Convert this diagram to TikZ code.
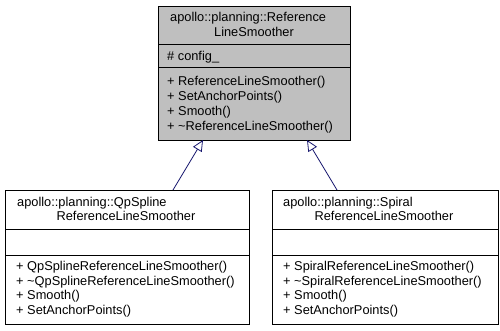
\documentclass[tikz,border=0pt]{standalone}
\usepackage{fontspec}
\setmainfont{Liberation Sans}
\usetikzlibrary{arrows.meta,calc}
\definecolor{edgeblue}{HTML}{191970}
\definecolor{basegray}{HTML}{BFBFBF}
\begin{document}
\begin{tikzpicture}[x=1pt,y=-1pt,
  classbox/.style={draw=black, line width=0.8pt, rectangle, inner sep=0pt, anchor=north west},
  txt/.style={font=\fontsize{12.8}{14}\selectfont, inner sep=0pt, text height=9.2pt, text depth=2.7pt},
  lefttxt/.style={txt, anchor=west},
  divider/.style={draw=black, line width=0.8pt},
  inherit/.style={draw=edgeblue, line width=0.8pt, -{Triangle[open, length=11pt, width=10pt]}}]
\useasboundingbox (0,0) rectangle (500,331);

% base class
\node[classbox, fill=basegray, minimum width=192pt, minimum height=134pt] (base) at (158,6) {};
\node[lefttxt] (baseT1) at (170,18) {apollo::planning::Reference};
\node[txt] (baseT2) at (254,33) {LineSmoother};
\draw[divider] ($(base.north west)+(0,38)$) -- ($(base.north east)+(0,38)$);
\node[lefttxt] (baseA1) at (167,57) {\# config\_};
\draw[divider] ($(base.north west)+(0,61)$) -- ($(base.north east)+(0,61)$);
\node[lefttxt] (baseM1) at (167,82) {+ ReferenceLineSmoother()};
\node[lefttxt] (baseM2) at (167,97) {+ SetAnchorPoints()};
\node[lefttxt] (baseM3) at (167,112) {+ Smooth()};
\node[lefttxt] (baseM4) at (167,127) {+ \textasciitilde ReferenceLineSmoother()};

% QP spline smoother
\node[classbox, minimum width=244pt, minimum height=134pt] (qp) at (5,190) {};
\node[lefttxt] (qpT1) at (17,203) {apollo::planning::QpSpline};
\node[txt] (qpT2) at (126,217) {ReferenceLineSmoother};
\draw[divider] ($(qp.north west)+(0,39)$) -- ($(qp.north east)+(0,39)$);
\draw[divider] ($(qp.north west)+(0,65)$) -- ($(qp.north east)+(0,65)$);
\node[lefttxt] (qpM1) at (16,267) {+ QpSplineReferenceLineSmoother()};
\node[lefttxt] (qpM2) at (16,282) {+ \textasciitilde QpSplineReferenceLineSmoother()};
\node[lefttxt] (qpM3) at (16,296) {+ Smooth()};
\node[lefttxt] (qpM4) at (16,311) {+ SetAnchorPoints()};

% spiral smoother
\node[classbox, minimum width=226pt, minimum height=134pt] (sp) at (272,190) {};
\node[lefttxt] (spT1) at (283,203) {apollo::planning::Spiral};
\node[txt] (spT2) at (384,217) {ReferenceLineSmoother};
\draw[divider] ($(sp.north west)+(0,39)$) -- ($(sp.north east)+(0,39)$);
\draw[divider] ($(sp.north west)+(0,65)$) -- ($(sp.north east)+(0,65)$);
\node[lefttxt] (spM1) at (283,267) {+ SpiralReferenceLineSmoother()};
\node[lefttxt] (spM2) at (283,282) {+ \textasciitilde SpiralReferenceLineSmoother()};
\node[lefttxt] (spM3) at (283,296) {+ Smooth()};
\node[lefttxt] (spM4) at (283,311) {+ SetAnchorPoints()};

% inheritance edges
\coordinate (qpTop) at (173,190);
\coordinate (spTop) at (337,190);
\coordinate (baseL) at (203,140);
\coordinate (baseR) at (307,140);
\draw[inherit] (qpTop) -- (baseL);
\draw[inherit] (spTop) -- (baseR);
\end{tikzpicture}
\end{document}
